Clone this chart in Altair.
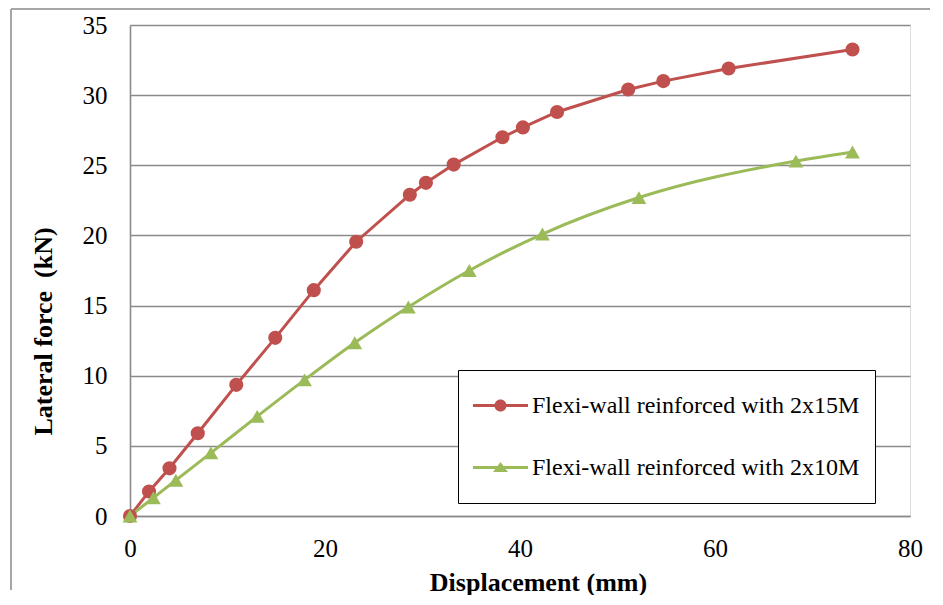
import altair as alt
import pandas as pd

# ---- data ----
series_names = ["Flexi-wall reinforced with 2x15M", "Flexi-wall reinforced with 2x10M"]
colors = ["#C0504D", "#9BBB59"]

red_x = [0, 1.95, 4.05, 6.95, 10.9, 14.9, 18.85, 23.2, 28.7, 30.35, 33.2, 38.2, 40.3, 43.8, 51.1, 54.7, 61.4, 74.1]
red_y = [0, 1.75, 3.4, 5.9, 9.35, 12.7, 16.1, 19.55, 22.9, 23.75, 25.05, 27.0, 27.7, 28.8, 30.4, 31.0, 31.9, 33.25]

green_x = [0, 2.4, 4.7, 8.3, 13.05, 17.9, 23.05, 28.55, 34.8, 42.3, 52.2, 68.3, 74.1]
green_y = [0, 1.3, 2.55, 4.5, 7.1, 9.7, 12.35, 14.9, 17.5, 20.1, 22.7, 25.3, 25.95]

x_ticks = [0, 20, 40, 60, 80]
y_ticks = [0, 5, 10, 15, 20, 25, 30, 35]

red_df = pd.DataFrame({"disp": red_x, "force": red_y, "series": series_names[0]})
green_df = pd.DataFrame({"disp": green_x, "force": green_y, "series": series_names[1]})
df = pd.concat([red_df, green_df], ignore_index=True)

FONT = "Liberation Serif"
GRID = "#8a8a8a"

x_enc = alt.X("disp:Q", scale=alt.Scale(domain=[0, 80], nice=False),
              axis=alt.Axis(values=x_ticks, title="Displacement (mm)", grid=False,
                            domain=True, domainColor=GRID, domainWidth=1.6, ticks=False,
                            labelFlush=False,
                            labelFont=FONT, labelFontSize=25, labelColor="black", labelPadding=20,
                            titleFont=FONT, titleFontSize=26, titleFontWeight="bold",
                            titleColor="black", titleX=408, titleY=74,
                            titleBaseline="alphabetic", titleAlign="center"))
y_enc = alt.Y("force:Q", scale=alt.Scale(domain=[0, 35], nice=False),
              axis=alt.Axis(values=y_ticks, title="Lateral force \u00a0(kN)", grid=True,
                            gridColor=GRID, gridWidth=1.6, domain=True, domainColor=GRID,
                            domainWidth=1.6, ticks=False, labelFlush=False,
                            labelFont=FONT, labelFontSize=25, labelColor="black", labelPadding=23,
                            titleFont=FONT, titleFontSize=26, titleFontWeight="bold",
                            titleColor="black", titleAngle=270, titleX=-87, titleY=306,
                            titleBaseline="middle", titleAlign="center"))

# legend symbols: a line segment with a marker in the middle
circle_path = ("M-1,-0.055L1,-0.055L1,0.055L-1,0.055Z"
               "M0.22,0A0.22,0.22,0,1,1,-0.22,0A0.22,0.22,0,1,1,0.22,0Z")
tri_path = ("M-1,-0.055L1,-0.055L1,0.055L-1,0.055Z"
            "M0,-0.2L0.27,0.16L-0.27,0.16Z")

legend = alt.Legend(
    orient="none", legendX=328, legendY=345, title=None,
    strokeColor="black", fillColor="white", padding=15,
    labelFont=FONT, labelFontSize=24, labelColor="black", labelOffset=4, labelLimit=600,
    symbolSize=3025, clipHeight=41, rowPadding=21, symbolOpacity=1,
    symbolStrokeWidth=0,
)

red_base = alt.Chart(red_df)
green_base = alt.Chart(green_df)

red_line = red_base.mark_line(strokeWidth=3, color=colors[0]).encode(x=x_enc, y=y_enc)
green_line = green_base.mark_line(strokeWidth=3, color=colors[1], interpolate="monotone").encode(x=x_enc, y=y_enc)
red_pts = red_base.mark_point(filled=True, opacity=1, size=200, shape="circle", color=colors[0]).encode(x=x_enc, y=y_enc)
green_pts = green_base.mark_point(filled=True, opacity=1, size=220, shape="triangle-up", color=colors[1]).encode(x=x_enc, y=y_enc)

legend_layer = alt.Chart(df).mark_point(filled=True, opacity=0).encode(
    x=x_enc, y=y_enc,
    color=alt.Color("series:N", scale=alt.Scale(domain=series_names, range=colors), legend=legend),
    shape=alt.Shape("series:N", scale=alt.Scale(domain=series_names, range=[circle_path, tri_path]),
                    legend=legend),
)

# chart-area border (light grey frame at the left and top)
frame_df = pd.DataFrame({"k": [0]})
frame_v = alt.Chart(frame_df).mark_rule(color="#a6a6a6", strokeWidth=2).encode(
    x=alt.value(-119), y=alt.value(-16), y2=alt.value(565))
frame_h = alt.Chart(frame_df).mark_rule(color="#a6a6a6", strokeWidth=2).encode(
    x=alt.value(-119), x2=alt.value(800), y=alt.value(-16))

chart = alt.layer(frame_v, frame_h, red_line, green_line, red_pts, green_pts, legend_layer).properties(
    width=780, height=491, padding={"left": 2, "top": 0, "right": 0, "bottom": 0}
).configure_view(stroke=None).configure(background="white")

chart.save("out.html", embed_options={"renderer": "svg", "actions": False})
